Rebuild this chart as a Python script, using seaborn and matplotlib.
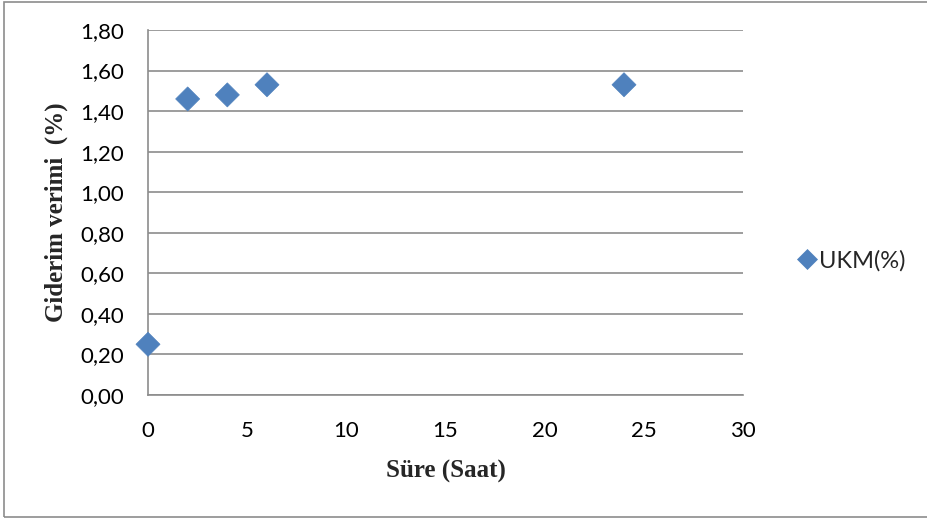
import matplotlib
matplotlib.use("Agg")
import matplotlib.pyplot as plt
import seaborn as sns
import pandas as pd
from matplotlib.patches import Rectangle

# Removal efficiency over time
sure_saat = [0, 2, 4, 6, 24]
ukm_yuzde = [0.25, 1.46, 1.48, 1.53, 1.53]
seri_adi = "UKM(%)"

y_ticks = [0.0, 0.2, 0.4, 0.6, 0.8, 1.0, 1.2, 1.4, 1.6, 1.8]
x_ticks = [0, 5, 10, 15, 20, 25, 30]

df = pd.DataFrame({"Süre": sure_saat, "Verim": ukm_yuzde, "Seri": seri_adi})

sns.set_theme(style="white")
plt.rcParams["font.family"] = ["Lato", "DejaVu Sans"]

fig = plt.figure(figsize=(9.27, 5.2), dpi=100)
ax = fig.add_axes([148 / 927, 1 - 395 / 520, (743 - 148) / 927, (395 - 30) / 520])

blue = "#4F81BD"
sns.scatterplot(data=df, x="Süre", y="Verim", hue="Seri", palette=[blue],
                marker="D", s=150, edgecolor=blue, linewidth=0.5, ax=ax,
                zorder=3, clip_on=False)

ax.set_xlim(0, 30)
ax.set_ylim(0, 1.8)
ax.set_xticks(x_ticks)
ax.set_yticks(y_ticks)
ax.set_xticklabels([str(v) for v in x_ticks])
ax.set_yticklabels([f"{v:.2f}".replace(".", ",") for v in y_ticks])
ax.tick_params(axis="both", length=0, labelsize=16, colors="black")
ax.tick_params(axis="x", pad=19)
ax.tick_params(axis="y", pad=17)

ax.grid(axis="y", color="#8c8c8c", linewidth=1.2)
ax.set_axisbelow(True)
for side in ["top", "right"]:
    ax.spines[side].set_visible(False)
for side in ["left", "bottom"]:
    ax.spines[side].set_color("#8c8c8c")
    ax.spines[side].set_linewidth(1.2)

ax.set_xlabel("Süre (Saat)", fontsize=18, fontweight="bold",
              family="Liberation Serif", labelpad=13)
ax.set_ylabel("Giderim verimi  (%)", fontsize=18, fontweight="bold",
              family="Liberation Serif", labelpad=9)

handles, labels = ax.get_legend_handles_labels()
ax.legend(handles, labels, loc="center left", bbox_to_anchor=(795 / 927, 259 / 520),
          bbox_transform=fig.transFigure, frameon=False, fontsize=17,
          handlelength=1.0, handletextpad=0.0, markerscale=0.8,
          borderaxespad=0, borderpad=0)

# Outer frame around the chart area (its right edge runs past the canvas)
fig.patches.append(Rectangle((4 / 927, 3 / 520), 1.02, (517 - 2) / 520,
                             transform=fig.transFigure, fill=False,
                             edgecolor="#8c8c8c", linewidth=1.2))

fig.savefig("out.png", dpi=100)
